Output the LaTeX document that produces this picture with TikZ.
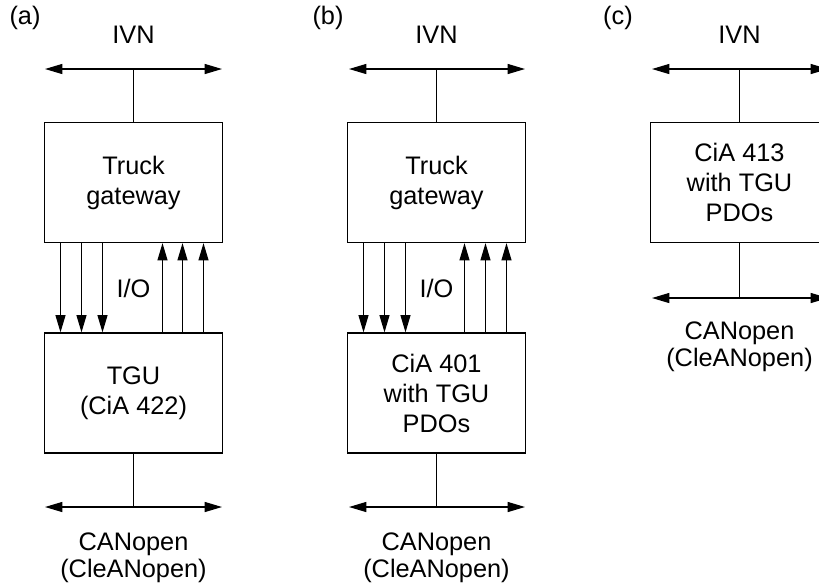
\documentclass[tikz,border=0pt]{standalone}
\usepackage{fontspec}
\setmainfont{Liberation Sans}
\usetikzlibrary{arrows.meta,calc}

\tikzset{every picture/.style={line width=0.9pt}}

\begin{document}
\begin{tikzpicture}[x=0.75pt,y=0.75pt,yscale=-1,xscale=1,
  unit/.style={draw, minimum width=134pt, minimum height=90pt, inner sep=0pt, align=center, font=\fontsize{19}{22.5}\selectfont},
  lbl/.style={inner sep=0pt, align=center, font=\fontsize{19}{20}\selectfont},
  bus/.style={{Triangle[length=13pt,width=7.5pt]}-{Triangle[length=13pt,width=7.5pt]}},
  sig/.style={-{Triangle[length=13pt,width=7.5pt]}}]
\useasboundingbox (0,0) rectangle (819,583);

%Panel (a)
\node [lbl] (taga) at (25,18) {(a)};
\node [lbl] (ivna) at (133.5,35) {IVN};
\coordinate (ivnaL) at (45,69);
\coordinate (ivnaR) at (222,69);
\coordinate (ivnaT) at (133.5,69);
\node [unit] (gwa) at (133.5,182.5) {Truck\\gateway};
\node [unit] (tgua) at (133.5,393) {TGU\\(CiA 422)};
\coordinate (cana L) at (45,507);
\coordinate (cana R) at (222,507);
\coordinate (cana T) at (133.5,507);
\node [lbl] (cana) at (133.5,558) {CANopen\\(CleANopen)};
\node [lbl] (ioa) at (133.5,288) {I/O};
% buses
\draw [bus] (ivnaL) -- (ivnaR);
\draw (ivnaT) -- (gwa);
\draw [bus] (cana L) -- (cana R);
\draw (cana T) -- (tgua);
% I/O lines
\foreach \dx in {-73,-52,-31}
  \draw [sig] ($(gwa.south)+(\dx,0)$) -- ($(tgua.north)+(\dx,0)$);
\foreach \dx in {29,49,70}
  \draw [sig] ($(tgua.north)+(\dx,0)$) -- ($(gwa.south)+(\dx,0)$);

%Panel (b)
\node [lbl] (tagb) at (328,18) {(b)};
\node [lbl] (ivnb) at (436.5,35) {IVN};
\coordinate (ivnbL) at (349,69);
\coordinate (ivnbR) at (525,69);
\coordinate (ivnbT) at (436.5,69);
\node [unit] (gwb) at (436.5,182.5) {Truck\\gateway};
\node [unit] (ciab) at (436.5,393) {CiA 401\\with TGU\\PDOs};
\coordinate (canb L) at (349,507);
\coordinate (canb R) at (525,507);
\coordinate (canb T) at (436.5,507);
\node [lbl] (canb) at (436.5,558) {CANopen\\(CleANopen)};
\node [lbl] (iob) at (436.5,288) {I/O};
% buses
\draw [bus] (ivnbL) -- (ivnbR);
\draw (ivnbT) -- (gwb);
\draw [bus] (canb L) -- (canb R);
\draw (canb T) -- (ciab);
% I/O lines
\foreach \dx in {-73,-52,-31}
  \draw [sig] ($(gwb.south)+(\dx,0)$) -- ($(ciab.north)+(\dx,0)$);
\foreach \dx in {28,49,70}
  \draw [sig] ($(ciab.north)+(\dx,0)$) -- ($(gwb.south)+(\dx,0)$);

%Panel (c)
\node [lbl] (tagc) at (618,18) {(c)};
\node [lbl] (ivnc) at (739.5,35) {IVN};
\coordinate (ivncL) at (652,69);
\coordinate (ivncR) at (828,69);
\coordinate (ivncT) at (739.5,69);
\node [unit] (ciac) at (739.5,182.5) {CiA 413\\with TGU\\PDOs};
\coordinate (canc L) at (652,298);
\coordinate (canc R) at (828,298);
\coordinate (canc T) at (739.5,298);
\node [lbl] (canc) at (739.5,347) {CANopen\\(CleANopen)};
% buses
\draw [bus] (ivncL) -- (ivncR);
\draw (ivncT) -- (ciac);
\draw [bus] (canc L) -- (canc R);
\draw (canc T) -- (ciac);

\end{tikzpicture}
\end{document}
